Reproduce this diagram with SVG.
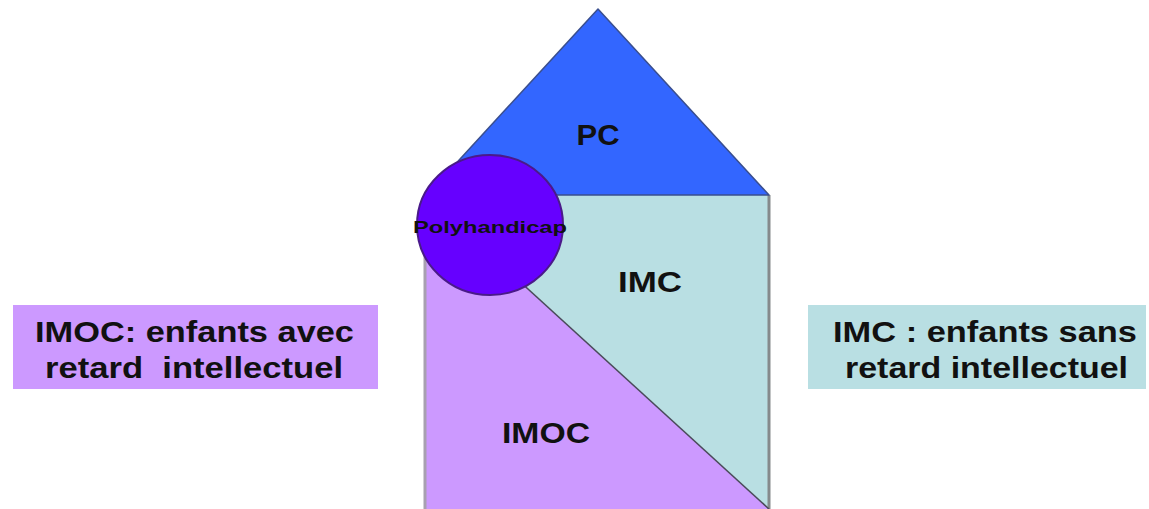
<svg xmlns="http://www.w3.org/2000/svg" width="1149" height="509" viewBox="0 0 1149 509">
<style>
.t{font-family:"Liberation Sans",Arial,sans-serif;font-weight:bold;fill:#111;}
.big{font-size:30px;}
.lbl{font-size:29px;}
</style>
<rect x="0" y="0" width="1149" height="509" fill="#fff"/>
<g id="imoc">
<polygon points="425,195 425,509 769,509" fill="#CC99FF"/>
<line x1="425" y1="195" x2="425" y2="509" stroke="#A8A0B0" stroke-width="3"/>
</g>
<g id="imc">
<polygon points="425,195 769,195 769,509" fill="#B9DFE3"/>
<line x1="769" y1="195" x2="769" y2="509" stroke="#858A8C" stroke-width="3"/>
<line x1="425" y1="195" x2="769" y2="509" stroke="#4A4A5A" stroke-width="1.5"/>
<text class="t lbl" x="650" y="292" text-anchor="middle" textLength="64" lengthAdjust="spacingAndGlyphs">IMC</text>
</g>
<g id="imoc-label">
<text class="t lbl" x="546" y="443" text-anchor="middle" textLength="88" lengthAdjust="spacingAndGlyphs">IMOC</text>
</g>
<g id="pc">
<polygon points="598,9 769,195 427,195" fill="#3366FF" stroke="#3A4F8F" stroke-width="1.5" stroke-linejoin="round"/>
<text class="t lbl" x="598" y="145" text-anchor="middle" textLength="43" lengthAdjust="spacingAndGlyphs">PC</text>
</g>
<g id="polyhandicap">
<ellipse cx="490" cy="225" rx="73" ry="70" fill="#6600FF" stroke="#4A1A8A" stroke-width="2"/>
<text class="t" x="490" y="233" font-size="17" text-anchor="middle" textLength="154" lengthAdjust="spacingAndGlyphs">Polyhandicap</text>
</g>
<g id="legend-imoc">
<rect x="13" y="305" width="365" height="84" fill="#CC99FF"/>
<text class="t big" x="194.5" y="342" text-anchor="middle" textLength="319" lengthAdjust="spacingAndGlyphs">IMOC: enfants avec</text>
<text class="t big" x="194" y="378" text-anchor="middle" textLength="298" lengthAdjust="spacingAndGlyphs" xml:space="preserve">retard  intellectuel</text>
</g>
<g id="legend-imc">
<rect x="808" y="305" width="338" height="84" fill="#B9DFE3"/>
<text class="t big" x="985" y="342" text-anchor="middle" textLength="304" lengthAdjust="spacingAndGlyphs">IMC : enfants sans</text>
<text class="t big" x="986.5" y="378" text-anchor="middle" textLength="283" lengthAdjust="spacingAndGlyphs">retard intellectuel</text>
</g>
<g id="connectors"></g>
</svg>
